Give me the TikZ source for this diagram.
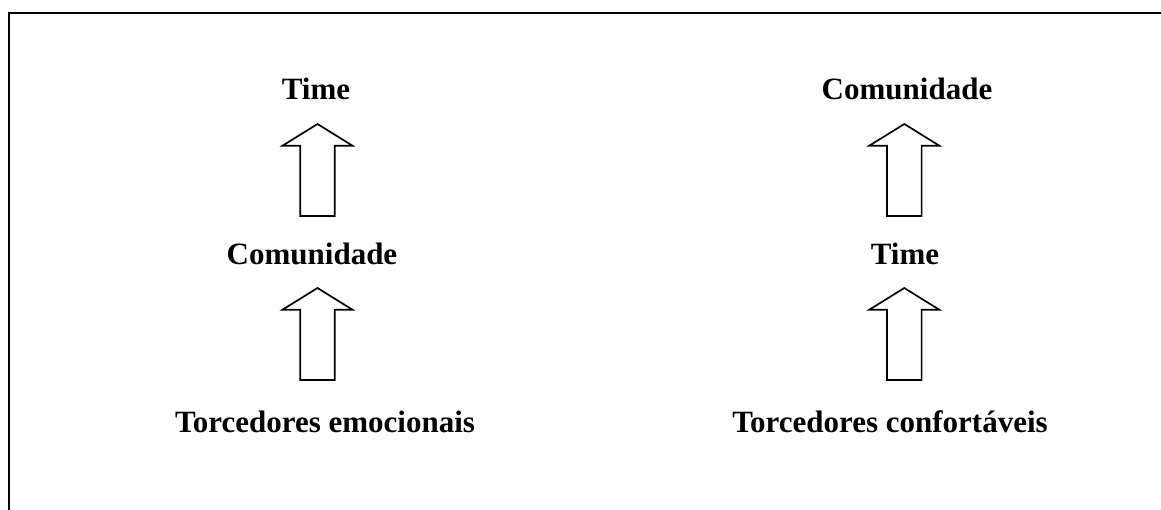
\documentclass[tikz,border=0pt]{standalone}
\usepackage{fontspec}
\setmainfont{Liberation Serif}
\begin{document}
\begin{tikzpicture}[x=1pt,y=-1pt,
  lbl/.style={anchor=base,inner sep=0pt,font=\fontsize{31}{37}\selectfont\bfseries},
  frameline/.style={line width=2.8pt},
  pics/uparrow/.style={code={
    \draw[line width=1.7pt,line join=miter,fill=white]
      (0,0) -- (35,21.7) -- (17.3,21.7) -- (17.3,92) -- (-17.3,92) -- (-17.3,21.7) -- (-35,21.7) -- cycle;
  }}]
\useasboundingbox (0,0) rectangle (1161,509);
\fill[white] (0,0) rectangle (1161,509);
% frame
\coordinate (fbl) at (9,520);
\coordinate (ftl) at (9,13);
\coordinate (ftr) at (1170,13);
\draw[frameline] (fbl) -- (ftl) -- (ftr);
% left column
\node[lbl] (lt) at (316,99) {Time};
\node[lbl] (lc) at (312,264) {Comunidade};
\node[lbl] (le) at (325,432) {Torcedores emocionais};
\pic at (317.5,124) {uparrow};
\pic at (317.5,288) {uparrow};
% right column
\node[lbl] (rc) at (907,99) {Comunidade};
\node[lbl] (rt) at (905,264) {Time};
\node[lbl] (rf) at (890,432) {Torcedores confortáveis};
\pic at (904.3,124) {uparrow};
\pic at (904.3,288) {uparrow};
\end{tikzpicture}
\end{document}
